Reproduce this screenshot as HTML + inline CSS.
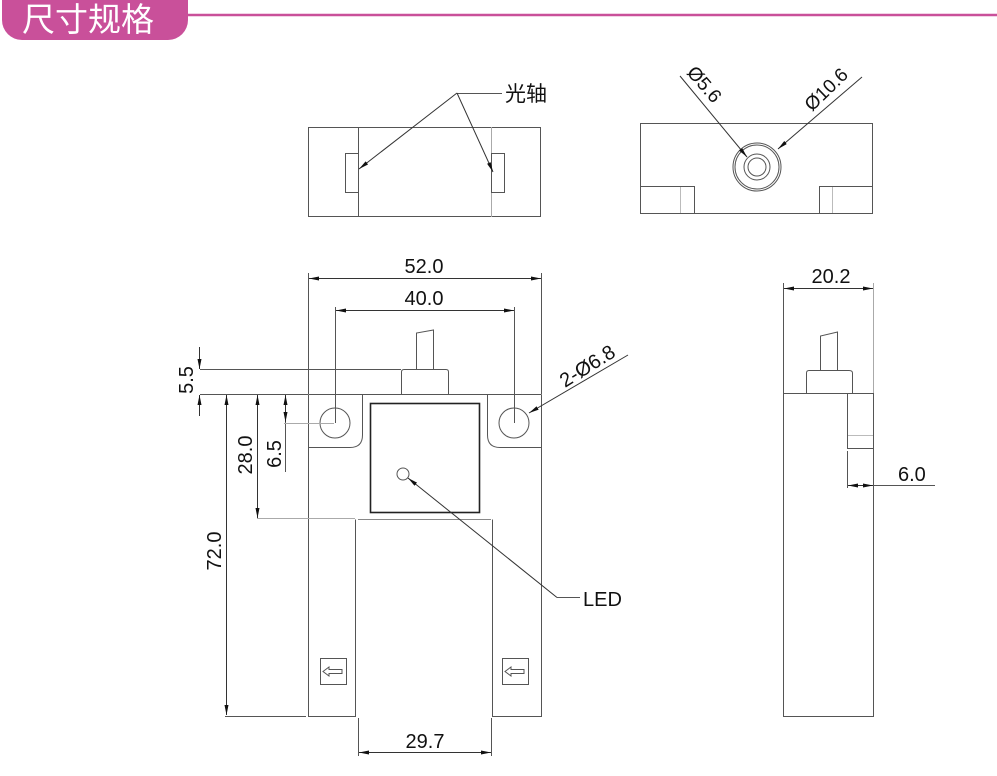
<!DOCTYPE html>
<html><head><meta charset="utf-8"><style>
html,body{margin:0;padding:0;background:#fff;}
svg{display:block;}
text{font-family:"Liberation Sans","Noto Sans CJK SC",sans-serif;fill:#111;}
</style></head><body>
<svg width="997" height="776" viewBox="0 0 997 776" xmlns="http://www.w3.org/2000/svg">
<defs>
<marker id="a" viewBox="0 0 10 4" refX="10" refY="2" markerWidth="10" markerHeight="4" markerUnits="userSpaceOnUse" orient="auto-start-reverse"><path d="M0,0 L10,2 L0,4 z" fill="#111"/></marker>
</defs>
<!-- header -->
<line x1="180" y1="15" x2="997" y2="15" stroke="#c9509a" stroke-width="2.5"/>
<rect x="2" y="-20" width="186" height="60" rx="20" fill="#c9509a"/>
<text x="22" y="31" font-size="33" style="fill:#fff">尺寸规格</text>

<g fill="none" stroke="#555" stroke-width="1">
<!-- top left view -->
<rect x="308.5" y="127.5" width="232" height="89"/>
<line x1="358.5" y1="127" x2="358.5" y2="217"/>
<line x1="491.5" y1="127" x2="491.5" y2="217" stroke="#aaa"/>
<rect x="345.5" y="153.5" width="13" height="39"/>
<rect x="491.5" y="153.5" width="13" height="39"/>
<line x1="457" y1="93.5" x2="502" y2="93.5"/>
<line x1="457" y1="93" x2="359" y2="169" stroke="#333" marker-end="url(#a)"/>
<line x1="457" y1="93" x2="493" y2="172" stroke="#333" marker-end="url(#a)"/>

<!-- top right view -->
<rect x="640.5" y="123.5" width="232" height="90"/>
<polyline points="640.5,186.5 694.5,186.5 694.5,213.5"/>
<line x1="680.5" y1="187" x2="680.5" y2="213" stroke="#bbb"/>
<polyline points="872.5,186.5 819.5,186.5 819.5,213.5"/>
<line x1="832.5" y1="187" x2="832.5" y2="213" stroke="#bbb"/>
<circle cx="757" cy="167" r="24"/>
<circle cx="757" cy="167" r="22"/>
<circle cx="757" cy="167" r="13"/>
<circle cx="757" cy="167" r="9"/>
<line x1="680" y1="76" x2="747" y2="157" stroke="#333" marker-end="url(#a)"/>
<line x1="862" y1="77" x2="778" y2="149" stroke="#333" marker-end="url(#a)"/>

<!-- side view -->
<rect x="783.5" y="393.5" width="90" height="323"/>
<line x1="783.5" y1="283" x2="783.5" y2="393"/>
<line x1="873.5" y1="283" x2="873.5" y2="393" stroke="#aaa"/>
<line x1="784" y1="288.5" x2="873" y2="288.5" stroke="#333" marker-start="url(#a)" marker-end="url(#a)"/>
<path d="M806.5,393 V373 Q806.5,370.5 809,370.5 H849 Q852.5,370.5 852.5,373 V393"/>
<path d="M820.5,370 V336 L837.5,332 V370"/>
<polyline points="847.5,393 847.5,448.5 873,448.5"/>
<line x1="848" y1="435.5" x2="873" y2="435.5" stroke="#bbb"/>
<line x1="847.5" y1="451" x2="847.5" y2="488"/>
<line x1="848" y1="485.5" x2="873" y2="485.5" stroke="#333" marker-start="url(#a)" marker-end="url(#a)"/>
<line x1="873" y1="485.5" x2="935" y2="485.5"/>

<!-- front view -->
<path d="M308.5,394.5 H541.5 M308.5,394.5 V716.5 H355.5 V519.5 M492.5,519.5 V716.5 H541.5 V394.5"/>
<path d="M362.5,394.5 V435 Q362.5,447.5 350,447.5 H308.5"/>
<path d="M487.5,394.5 V435 Q487.5,447.5 500,447.5 H541.5"/>
<line x1="358" y1="519.5" x2="491" y2="519.5" stroke="#888"/>
<circle cx="335" cy="423" r="15"/>
<circle cx="514" cy="423" r="15"/>
<rect x="370.5" y="403.5" width="109" height="109" stroke="#222" stroke-width="1.6"/>
<circle cx="403" cy="474" r="6"/>
<path d="M401.5,394 V372 Q401.5,369.5 404,369.5 H446 Q448.5,369.5 448.5,372 V394"/>
<path d="M416.5,369 V333 L433.5,330 V369"/>
<line x1="308.5" y1="273" x2="308.5" y2="394"/>
<line x1="541.5" y1="273" x2="541.5" y2="394"/>
<line x1="309" y1="278.5" x2="541" y2="278.5" stroke="#333" marker-start="url(#a)" marker-end="url(#a)"/>
<line x1="335.5" y1="307" x2="335.5" y2="423"/>
<line x1="514.5" y1="307" x2="514.5" y2="423"/>
<line x1="336" y1="310.5" x2="514" y2="310.5" stroke="#333" marker-start="url(#a)" marker-end="url(#a)"/>
<line x1="200" y1="369.5" x2="401" y2="369.5"/>
<line x1="200" y1="394.5" x2="308" y2="394.5"/>
<line x1="199.5" y1="347" x2="199.5" y2="369" stroke="#333" marker-end="url(#a)"/>
<line x1="199.5" y1="416" x2="199.5" y2="395" stroke="#333" marker-end="url(#a)"/>
<line x1="257.5" y1="395" x2="257.5" y2="518" stroke="#333" marker-start="url(#a)" marker-end="url(#a)"/>
<line x1="257" y1="518.5" x2="355" y2="518.5" stroke="#aaa"/>
<line x1="285.5" y1="395" x2="285.5" y2="422" stroke="#333" marker-start="url(#a)" marker-end="url(#a)"/>
<line x1="285.5" y1="422" x2="285.5" y2="472"/>
<line x1="284" y1="423.5" x2="334" y2="423.5" stroke="#aaa"/>
<line x1="226.5" y1="395" x2="226.5" y2="715" stroke="#333" marker-start="url(#a)" marker-end="url(#a)"/>
<line x1="225" y1="716.5" x2="306" y2="716.5"/>
<rect x="320.5" y="658.5" width="26" height="26"/>
<path d="M323,671.5 L329,667 V669.5 H342 V673.5 H329 V676 Z"/>
<rect x="502.5" y="658.5" width="26" height="26"/>
<path d="M505,671.5 L511,667 V669.5 H524 V673.5 H511 V676 Z"/>
<line x1="358.5" y1="718" x2="358.5" y2="756"/>
<line x1="491.5" y1="718" x2="491.5" y2="756"/>
<line x1="359" y1="752.5" x2="491" y2="752.5" stroke="#333" marker-start="url(#a)" marker-end="url(#a)"/>
<line x1="557" y1="597.5" x2="580" y2="597.5"/>
<line x1="557" y1="597.5" x2="408" y2="478" stroke="#333" marker-end="url(#a)"/>
<line x1="628" y1="355" x2="529" y2="413" stroke="#333" marker-end="url(#a)"/>
</g>

<text x="505" y="101" font-size="21">光轴</text>
<text font-size="19" transform="translate(686,73) rotate(49)">Ø5.6</text>
<text font-size="19" transform="translate(812,112) rotate(-44)">Ø10.6</text>
<text x="424" y="273" font-size="20" text-anchor="middle">52.0</text>
<text x="424" y="305" font-size="20" text-anchor="middle">40.0</text>
<text x="831" y="283" font-size="20" text-anchor="middle">20.2</text>
<text x="898" y="481" font-size="20">6.0</text>
<text x="425" y="748" font-size="20" text-anchor="middle">29.7</text>
<text x="583" y="606" font-size="20">LED</text>
<text font-size="20" transform="translate(565,388) rotate(-32)">2-Ø6.8</text>
<text font-size="20" text-anchor="middle" transform="translate(193,380) rotate(-90)">5.5</text>
<text font-size="20" text-anchor="middle" transform="translate(252,455) rotate(-90)">28.0</text>
<text font-size="20" text-anchor="middle" transform="translate(281,454) rotate(-90)">6.5</text>
<text font-size="20" text-anchor="middle" transform="translate(221,551) rotate(-90)">72.0</text>
</svg>
</body></html>
